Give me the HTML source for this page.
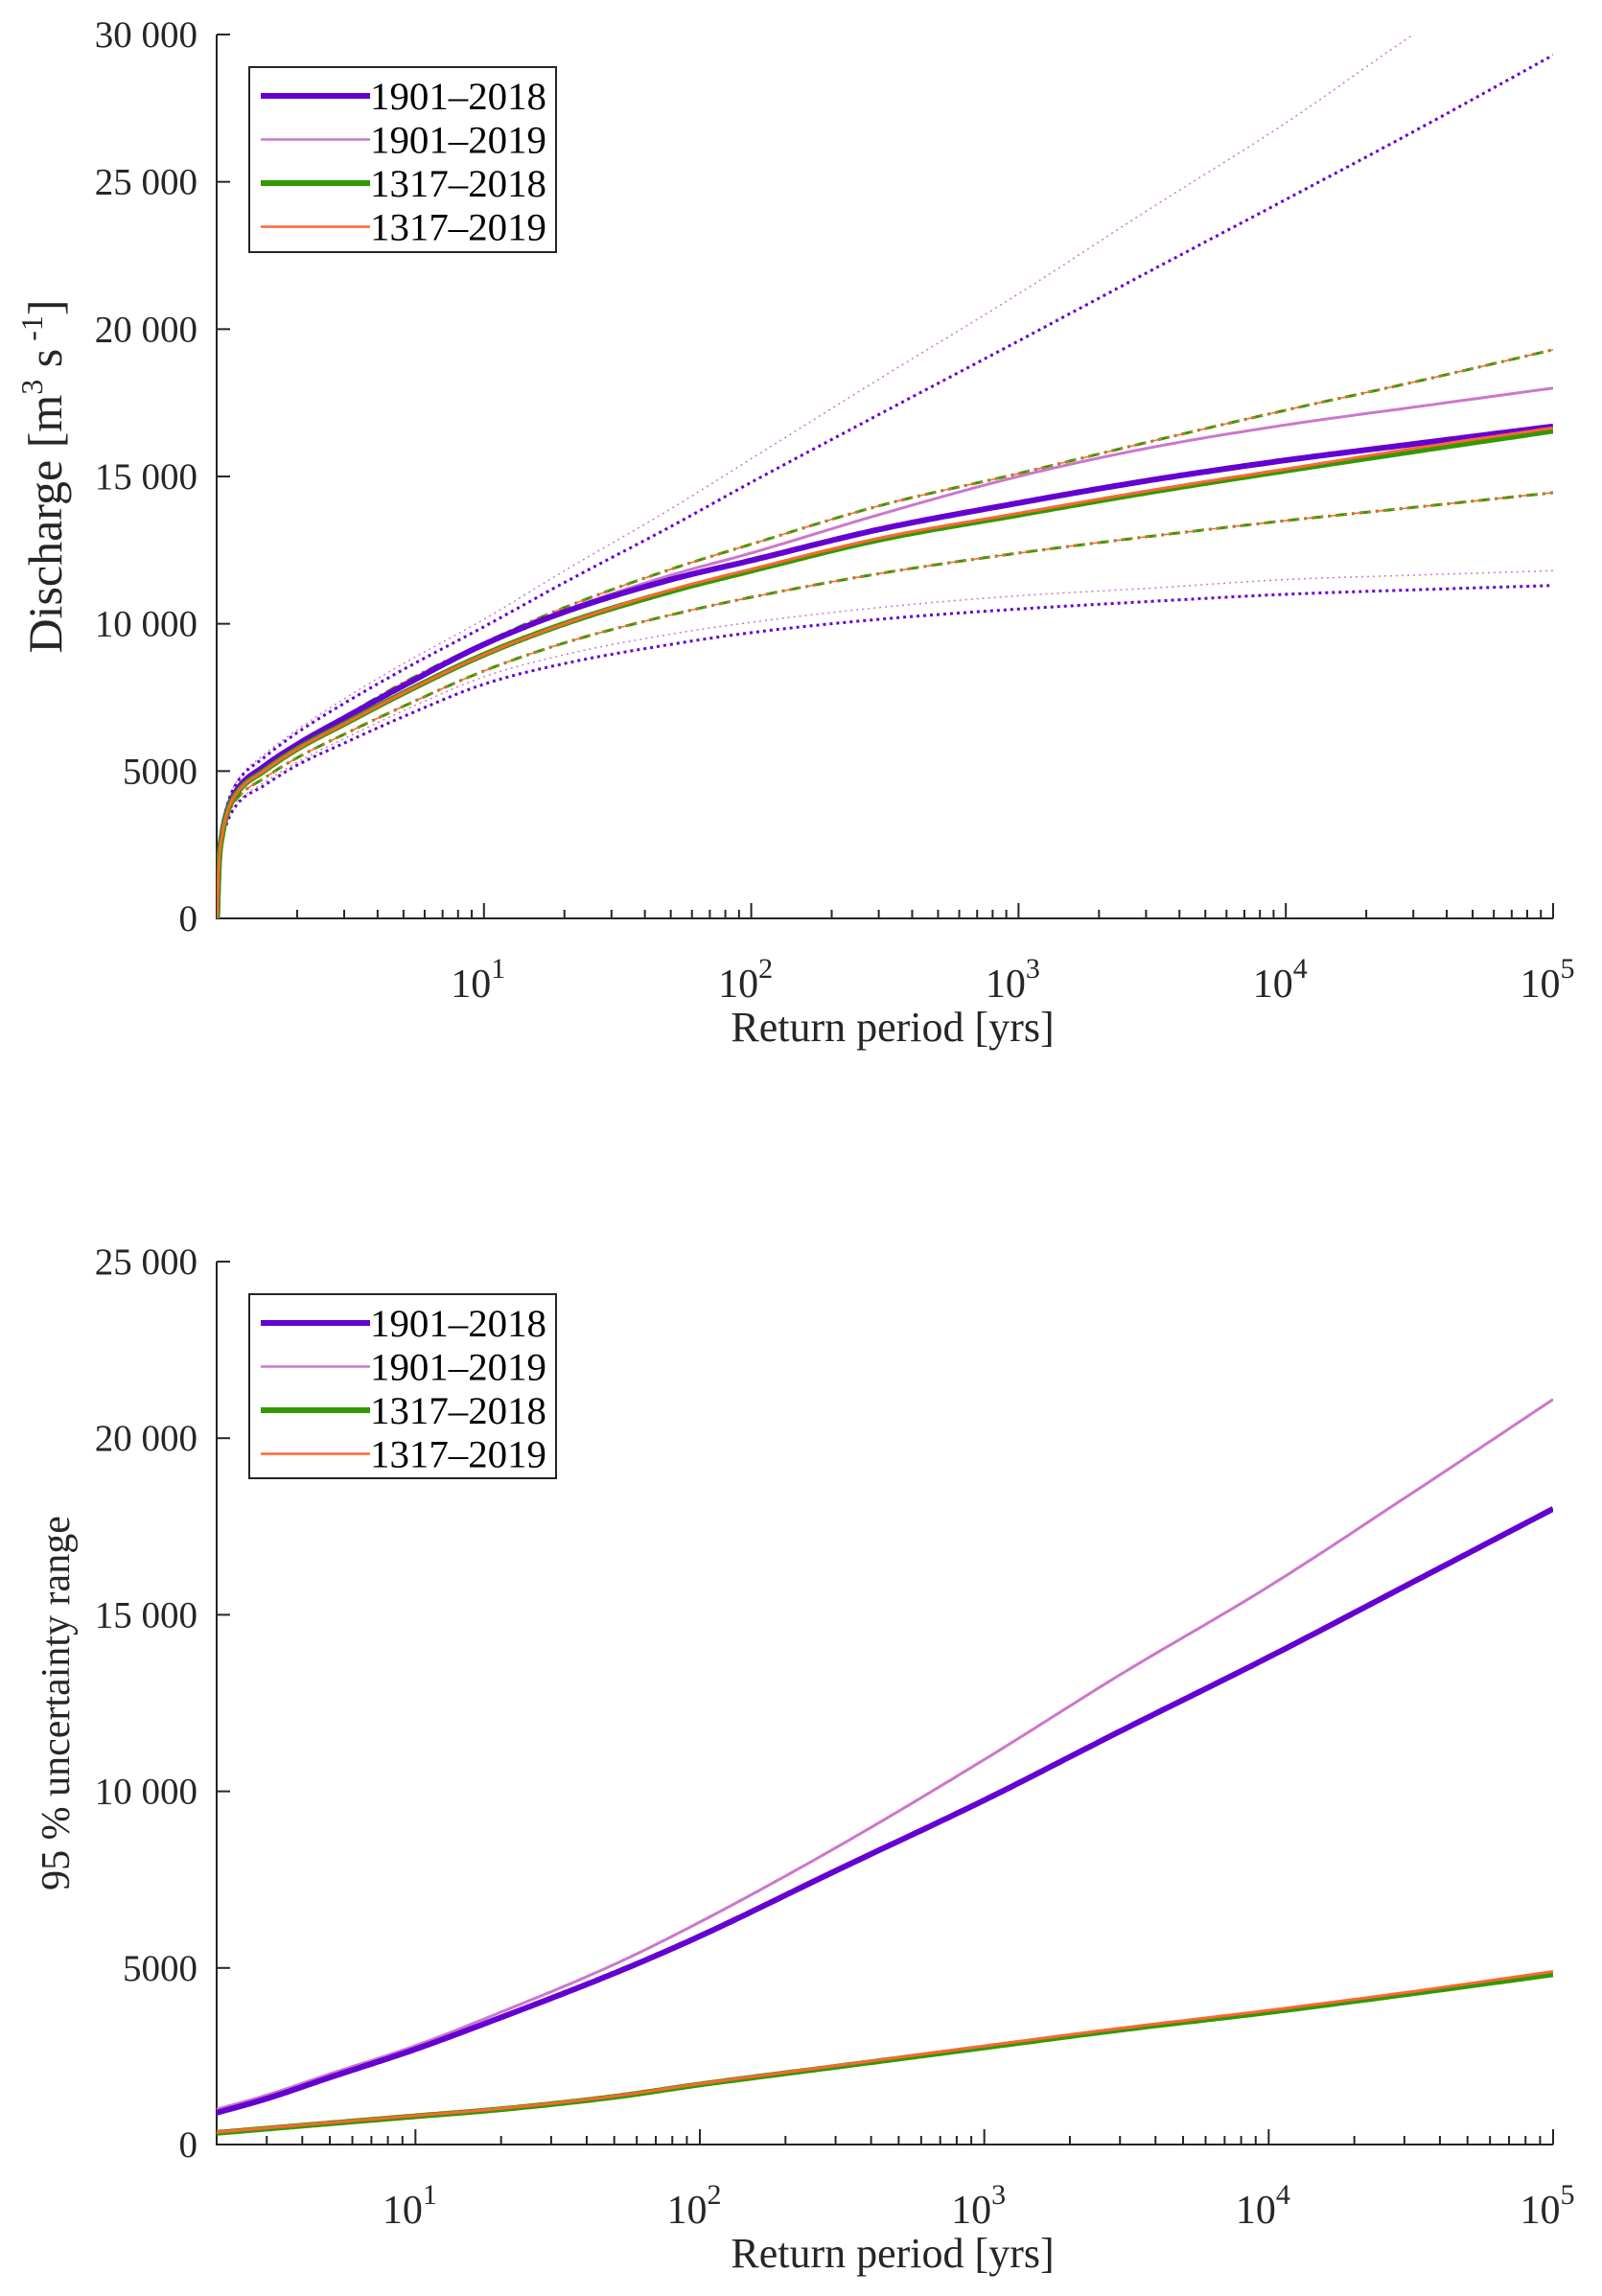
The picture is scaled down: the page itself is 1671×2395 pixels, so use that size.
<!DOCTYPE html>
<html><head><meta charset="utf-8"><style>
html,body{margin:0;padding:0;background:#fff;}
svg{display:block;font-family:"Liberation Serif",serif;}
</style></head><body>
<svg id="fig" width="1671" height="2395" viewBox="0 0 1671 2395" xmlns="http://www.w3.org/2000/svg"></svg>
<script>
// ---- data ----
const topT = [1.003, 1.02, 1.05, 1.1, 1.2, 1.5, 2, 3, 5, 10, 20, 50, 100, 300, 1000, 3000, 10000, 30000, 100000];
const med1901_2018 = [0, 1900, 2900, 3700, 4400, 5150, 5900, 6800, 7900, 9300, 10400, 11500, 12150, 13200, 14100, 14850, 15550, 16100, 16700];
const med1901_2019 = [0, 1900, 2900, 3700, 4400, 5150, 5900, 6800, 7900, 9300, 10450, 11650, 12400, 13700, 15000, 15950, 16750, 17350, 18000];
const med1317_2018 = [0, 1850, 2850, 3650, 4300, 5000, 5750, 6600, 7650, 8950, 10000, 11100, 11800, 12850, 13700, 14450, 15200, 15850, 16550];
const med1317_2019 = [0, 1850, 2850, 3650, 4300, 5000, 5750, 6600, 7650, 8950, 10000, 11150, 11850, 12900, 13750, 14500, 15250, 15950, 16650];
const up1317 = [0, 1900, 2950, 3750, 4450, 5150, 5950, 6850, 8000, 9350, 10550, 11850, 12700, 14000, 15100, 16150, 17250, 18200, 19300];
const lo1317 = [0, 1800, 2750, 3500, 4100, 4750, 5450, 6250, 7200, 8400, 9350, 10300, 10900, 11700, 12400, 12950, 13500, 13950, 14450];
const up1901_2018 = [0, 2000, 3050, 3900, 4650, 5450, 6300, 7300, 8450, 9900, 11400, 13300, 14800, 17100, 19600, 21900, 24400, 26700, 29300];
const lo1901_2018 = [0, 1750, 2650, 3300, 3900, 4500, 5200, 5950, 6850, 7950, 8650, 9300, 9700, 10150, 10500, 10750, 11000, 11150, 11300];
const up1901_2019 = [0, 2000, 3100, 3950, 4700, 5550, 6400, 7450, 8650, 10150, 11800, 13900, 15600, 18300, 21200, 24000, 27000, 30000, 33000];
const lo1901_2019 = [0, 1750, 2700, 3350, 3950, 4600, 5300, 6100, 7050, 8200, 8950, 9650, 10050, 10550, 10950, 11200, 11500, 11650, 11800];
const topYTicks = [0, 5000, 10000, 15000, 20000, 25000, 30000];
const topYLabels = ["0", "5000", "10 000", "15 000", "20 000", "25 000", "30 000"];
const xDecades = [1, 2, 3, 4, 5];

const botT = [2, 3, 5, 10, 20, 50, 100, 300, 1000, 3000, 10000, 30000, 100000];
const rng1901_2018 = [900, 1300, 1900, 2700, 3600, 4850, 5900, 7750, 9750, 11700, 13800, 15800, 18000];
const rng1901_2019 = [1000, 1400, 2000, 2800, 3750, 5100, 6300, 8400, 10900, 13300, 15800, 18300, 21100];
const rng1317_2018 = [330, 450, 600, 800, 1000, 1350, 1700, 2200, 2750, 3250, 3750, 4250, 4820];
const rng1317_2019 = [350, 470, 620, 820, 1020, 1370, 1720, 2230, 2790, 3290, 3800, 4300, 4900];
const botYTicks = [0, 5000, 10000, 15000, 20000, 25000];
const botYLabels = ["0", "5000", "10 000", "15 000", "20 000", "25 000"];

const NS = "http://www.w3.org/2000/svg";
const svg = document.getElementById('fig');
function mk(tag, attrs, parent) {
  const e = document.createElementNS(NS, tag);
  for (const k in attrs) e.setAttribute(k, attrs[k]);
  (parent || svg).appendChild(e);
  return e;
}

// monotone cubic (Fritsch-Carlson) interpolation
function monoInterp(xs, ys) {
  const n = xs.length, d = [], m = new Array(n);
  for (let i = 0; i < n - 1; i++) d.push((ys[i + 1] - ys[i]) / (xs[i + 1] - xs[i]));
  m[0] = d[0]; m[n - 1] = d[n - 2];
  for (let i = 1; i < n - 1; i++) m[i] = (d[i - 1] * d[i] <= 0) ? 0 : (d[i - 1] + d[i]) / 2;
  for (let i = 0; i < n - 1; i++) {
    if (d[i] === 0) { m[i] = 0; m[i + 1] = 0; continue; }
    const a = m[i] / d[i], b = m[i + 1] / d[i], s = a * a + b * b;
    if (s > 9) { const t = 3 / Math.sqrt(s); m[i] = t * a * d[i]; m[i + 1] = t * b * d[i]; }
  }
  return function (x) {
    let i = 0;
    while (i < n - 2 && x > xs[i + 1]) i++;
    const h = xs[i + 1] - xs[i], t = (x - xs[i]) / h;
    const t2 = t * t, t3 = t2 * t;
    return (2 * t3 - 3 * t2 + 1) * ys[i] + (t3 - 2 * t2 + t) * h * m[i] + (-2 * t3 + 3 * t2) * ys[i + 1] + (t3 - t2) * h * m[i + 1];
  };
}

function axes(cfg) {
  const g = mk('g', {});
  
  
  const lx0 = Math.log10(cfg.xmin);
  const xs = v => cfg.x0 + (Math.log10(v) - lx0) / (5 - lx0) * (cfg.x1 - cfg.x0);
  const ys = v => cfg.y1 - v / cfg.ymax * (cfg.y1 - cfg.y0);
  const cp = mk('clipPath', {id: cfg.name + '-clip'}, g);
  mk('rect', {x: cfg.x0, y: cfg.y0, width: cfg.x1 - cfg.x0, height: cfg.y1 - cfg.y0 + 2}, cp);
  const ax = mk('path', {d: `M${cfg.x0},${cfg.y0} L${cfg.x0},${cfg.y1} L${cfg.x1},${cfg.y1}`, fill: 'none', stroke: '#262626', 'stroke-width': 2}, g);
  
  
  cfg.yt.forEach((v, i) => {
    mk('line', {x1: cfg.x0, x2: cfg.x0 + 14, y1: ys(v), y2: ys(v), stroke: '#262626', 'stroke-width': 2}, g);
    const t = mk('text', {x: cfg.x0 - 20, y: ys(v) + 13, 'text-anchor': 'end', 'font-size': 39, fill: '#262626'}, g);
    t.textContent = cfg.yl[i];
    
    
  });
  for (let d = 0; d < 5; d++) {
    for (let m = 1; m <= 9; m++) {
      const v = m * Math.pow(10, d);
      if (v < cfg.xmin) continue;
      const len = m === 1 ? 16 : 9;
      mk('line', {x1: xs(v), x2: xs(v), y1: cfg.y1, y2: cfg.y1 - len, stroke: '#262626', 'stroke-width': 2}, g);
    }
  }
  mk('line', {x1: xs(1e5), x2: xs(1e5), y1: cfg.y1, y2: cfg.y1 - 16, stroke: '#262626', 'stroke-width': 2}, g);
  xDecades.forEach(d => {
    const t = mk('text', {x: xs(Math.pow(10, d)) - 6, y: cfg.y1 + 82, 'text-anchor': 'middle', 'font-size': 42, fill: '#262626'}, g);
    t.innerHTML = '10<tspan dy="-20" font-size="30">' + d + '</tspan>';
    
    
  });
  const xt = mk('text', {x: (cfg.x0 + cfg.x1) / 2 + 8, y: cfg.y1 + 128, 'text-anchor': 'middle', 'font-size': 44, fill: '#262626'}, g);
  xt.textContent = 'Return period [yrs]';
  
  
  const yt = mk('text', {x: 0, y: 0, 'text-anchor': 'middle', 'font-size': cfg.ytSize, fill: '#262626', transform: `translate(${cfg.ytX},${(cfg.y0 + cfg.y1) / 2}) rotate(-90)`}, g);
  yt.innerHTML = cfg.ytitle;
  
  

  function line(T, vals, style, name) {
    const lt = T.map(t => Math.log10(t));
    const f = monoInterp(lt, vals);
    const a = lt[0], b = lt[lt.length - 1];
    let d = '';
    const N = 400;
    for (let k = 0; k <= N; k++) {
      // denser sampling near the start
      const u = k / N;
      const l = a + (b - a) * Math.pow(u, 1.6);
      const px = xs(Math.pow(10, l)), py = ys(f(l));
      d += (k ? ' L' : 'M') + px.toFixed(1) + ',' + py.toFixed(1);
    }
    const p = mk('path', Object.assign({d: d, fill: 'none', 'clip-path': `url(#${cfg.name}-clip)`, 'stroke-linejoin': 'round'}, style), g);
    
    
  }
  return {line: line, g: g};
}

function legend(g, x, y, w, h, rows) {
  const lg = mk('g', {}, g);
  
  
  mk('rect', {x: x, y: y, width: w, height: h, fill: '#fff', stroke: '#262626', 'stroke-width': 2}, lg);
  rows.forEach((r, i) => {
    const cy = y + 30 + i * 45.5;
    const e = mk('g', {}, lg);
    
    
    mk('line', {x1: x + 12, x2: x + 126, y1: cy, y2: cy, stroke: r[1], 'stroke-width': r[2]}, e);
    const t = mk('text', {x: x + 126, y: cy + 14, 'font-size': 40, fill: '#000', textLength: 184, lengthAdjust: 'spacingAndGlyphs'}, e);
    t.textContent = r[0];
  });
}

const PUR = '#6400d2', LPUR = '#cc77cc', GRN = '#339900', ORG = '#ff6633';

// ---- top chart ----
const A = axes({name: 'discharge-chart', x0: 226, x1: 1620, y0: 36, y1: 958, xmin: 1, ymax: 30000,
  yt: topYTicks, yl: topYLabels, ytX: 64, ytSize: 50,
  ytitle: 'Discharge [m<tspan dy="-20" font-size="32">3</tspan><tspan dy="20"> s</tspan><tspan dy="-20" font-size="32"> -1</tspan><tspan dy="20">]</tspan>'});
A.line(topT, up1901_2019, {stroke: LPUR, 'stroke-width': 1.5, 'stroke-dasharray': '2 4'}, 'upper-ci-1901-2019');
A.line(topT, lo1901_2019, {stroke: LPUR, 'stroke-width': 1.5, 'stroke-dasharray': '2 4'}, 'lower-ci-1901-2019');
A.line(topT, up1901_2018, {stroke: PUR, 'stroke-width': 3, 'stroke-dasharray': '3 4'}, 'upper-ci-1901-2018');
A.line(topT, lo1901_2018, {stroke: PUR, 'stroke-width': 3, 'stroke-dasharray': '3 4'}, 'lower-ci-1901-2018');
A.line(topT, up1317, {stroke: GRN, 'stroke-width': 3, 'stroke-dasharray': '12 5 3 5'}, 'upper-ci-1317-2018');
A.line(topT, up1317, {stroke: ORG, 'stroke-width': 1.5, 'stroke-dasharray': '12 5 3 5', 'stroke-dashoffset': 8}, 'upper-ci-1317-2019');
A.line(topT, lo1317, {stroke: GRN, 'stroke-width': 3, 'stroke-dasharray': '12 5 3 5'}, 'lower-ci-1317-2018');
A.line(topT, lo1317, {stroke: ORG, 'stroke-width': 1.5, 'stroke-dasharray': '12 5 3 5', 'stroke-dashoffset': 8}, 'lower-ci-1317-2019');
A.line(topT, med1901_2019, {stroke: LPUR, 'stroke-width': 3}, 'median-1901-2019');
A.line(topT, med1901_2018, {stroke: PUR, 'stroke-width': 6}, 'median-1901-2018');
A.line(topT, med1317_2018, {stroke: GRN, 'stroke-width': 6}, 'median-1317-2018');
A.line(topT, med1317_2019, {stroke: ORG, 'stroke-width': 3}, 'median-1317-2019');
legend(A.g, 260, 70, 320, 193, [['1901\u20132018', PUR, 6], ['1901\u20132019', LPUR, 2.5], ['1317\u20132018', GRN, 6], ['1317\u20132019', ORG, 2.5]]);

// ---- bottom chart ----
const B = axes({name: 'uncertainty-chart', x0: 226, x1: 1620, y0: 1316, y1: 2237, xmin: 2, ymax: 25000,
  yt: botYTicks, yl: botYLabels, ytX: 72, ytSize: 42, ytitle: '95 % uncertainty range'});
B.line(botT, rng1901_2019, {stroke: LPUR, 'stroke-width': 3}, 'range-1901-2019');
B.line(botT, rng1901_2018, {stroke: PUR, 'stroke-width': 6}, 'range-1901-2018');
B.line(botT, rng1317_2018, {stroke: GRN, 'stroke-width': 6}, 'range-1317-2018');
B.line(botT, rng1317_2019, {stroke: ORG, 'stroke-width': 3}, 'range-1317-2019');
legend(B.g, 260, 1350, 320, 192, [['1901\u20132018', PUR, 6], ['1901\u20132019', LPUR, 2.5], ['1317\u20132018', GRN, 6], ['1317\u20132019', ORG, 2.5]]);
</script>
</body></html>
